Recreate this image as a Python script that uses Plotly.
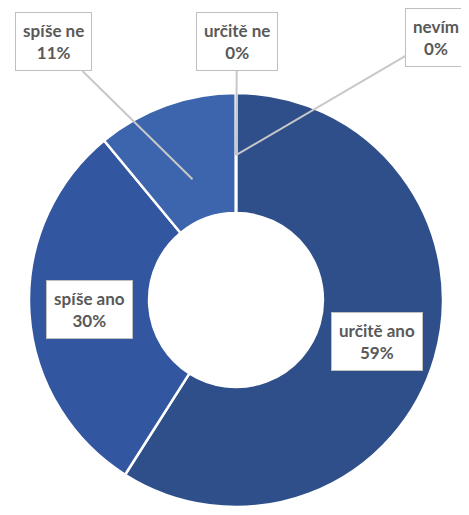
import math
import plotly.graph_objects as go

# Survey answers (share of respondents, %)
labels = ["určitě ano", "spíše ano", "spíše ne", "určitě ne", "nevím"]
values = [59, 30, 11, 0, 0]
colors = ["#2E4F8A", "#3256A0", "#3C65AE", "#4472C4", "#5B84CC"]

# the browser page has an 8px body margin, so work in shifted pixel coords
# and keep the figure small enough that no scrollbars appear
OFF = 8
W, H = 469 - 2 * OFF, 515 - 2 * OFF
cx, cy, R, hole = 236 - OFF, 300 - OFF, 207, 0.42  # pie centre / radius in pixels


def paper(px, py):
    return px / W, 1 - py / H


fig = go.Figure(go.Pie(
    labels=labels,
    values=values,
    hole=hole,
    sort=False,
    direction="clockwise",
    rotation=0,
    marker=dict(colors=colors, line=dict(color="white", width=2.5)),
    textinfo="none",
    hoverinfo="label+percent",
    showlegend=False,
    domain=dict(x=[(cx - R) / W, (cx + R) / W], y=[(H - cy - R) / H, (H - cy + R) / H]),
))

# slice mid angles computed from the values
total = sum(values)
mids = []
acc = 0
for v in values:
    frac = (acc + v / 2) / total
    acc += v
    mids.append(math.radians(90 - frac * 360))


def point(ang, r):
    return cx + r * math.cos(ang), cy - r * math.sin(ang)


box = dict(bgcolor="white", bordercolor="#BFBFBF", borderwidth=1, borderpad=7,
           font=dict(family="Lato, Open Sans, sans-serif", size=17, color="#595959"),
           xref="paper", yref="paper", align="center",
           xanchor="center", yanchor="middle")

# labels inside the big slices
for i in (0, 1):
    px_, py_ = point(mids[i], R * (1 + hole) / 2)
    x, y = paper(px_, py_)
    fig.add_annotation(x=x, y=y, text=f"<b>{labels[i]}<br>{values[i]}%</b>",
                       showarrow=False, **box)

# callouts for the small slices: (box centre in pixels, radius to point at)
callouts = {2: ((53 - OFF, 42 - OFF), R * 0.62),
            3: ((237 - OFF, 42 - OFF), R * 0.7),
            4: ((436 - OFF, 38 - OFF), R * 0.7)}
for i, ((bx, by), r) in callouts.items():
    ang = mids[i] if values[i] else math.radians(90)
    px_, py_ = point(ang, r)
    x, y = paper(px_, py_)
    fig.add_annotation(x=x, y=y, text=f"<b>{labels[i]}<br>{values[i]}%</b>",
                       showarrow=True, arrowhead=0, arrowwidth=2, arrowcolor="#C8C8C8",
                       ax=bx - px_, ay=by - py_, standoff=0, **box)

fig.update_layout(
    width=W, height=H,
    margin=dict(l=0, r=0, t=0, b=0),
    paper_bgcolor="white",
    plot_bgcolor="white",
)

fig.write_html("out.html")
